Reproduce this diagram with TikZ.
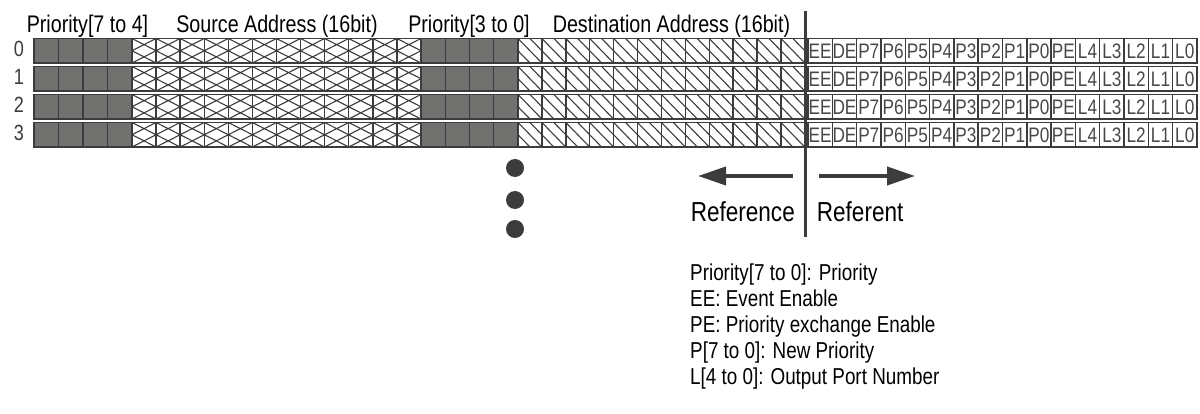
\documentclass[tikz,border=0pt]{standalone}
\usepackage{fontspec}
\setmainfont{Liberation Sans}[FakeStretch=0.82]
\usetikzlibrary{arrows.meta}
\definecolor{ink}{HTML}{3C3C3C}
\definecolor{cellgray}{HTML}{717170}
\definecolor{labelgray}{HTML}{484848}

\begin{document}
\begin{tikzpicture}[x=1pt,y=-1pt,
  cellbox/.style={draw=ink, line width=1.4pt, inner sep=0pt, outer sep=0pt,
    minimum height=24.5pt, anchor=north west},
  graycell/.style={cellbox, fill=cellgray},
  crosscell/.style={cellbox, path picture={
    \coordinate (pnw) at (path picture bounding box.north west);
    \coordinate (pne) at (path picture bounding box.north east);
    \coordinate (psw) at (path picture bounding box.south west);
    \coordinate (pse) at (path picture bounding box.south east);
    \draw[ink, line width=1.1pt]
      (pnw) -- (path picture bounding box.east) -- (psw)
      (pne) -- (path picture bounding box.west) -- (pse);}},
  diagcell/.style={cellbox, path picture={
    \draw[ink, line width=1.1pt]
      (path picture bounding box.north west) -- (path picture bounding box.south east)
      (path picture bounding box.north) -- (path picture bounding box.east)
      (path picture bounding box.west) -- (path picture bounding box.south);}},
  labcell/.style={cellbox, text=labelgray, font=\fontsize{21}{22}\selectfont,
    text height=15pt, text depth=0pt},
  header/.style={anchor=base, font=\fontsize{24}{28}\selectfont, text=black, inner sep=0pt},
  rowlabel/.style={anchor=base, font=\fontsize{22}{26}\selectfont, text=ink, inner sep=0pt},
  legend/.style={anchor=base west, font=\fontsize{23}{26}\selectfont, text=black, inner sep=0pt},
  dirlabel/.style={font=\fontsize{27.5}{30}\selectfont, text=black, inner sep=0pt},
  dot/.style={circle, fill=ink, minimum size=18pt, inner sep=0pt},
  bigarrow/.style={draw=ink, line width=4pt, -{Triangle[length=28pt, width=18pt]}},
  divider/.style={draw=ink, line width=3.2pt}
]
\useasboundingbox (0,0) rectangle (1200,414);

% field headings
\node[header] (hp1) at (87.5,33) {Priority[7 to 4]};
\node[header] (hsa) at (277,33) {Source Address (16bit)};
\node[header] (hp2) at (469,33) {Priority[3 to 0]};
\node[header] (hda) at (671.5,33) {Destination Address (16bit)};

% four table rows
\foreach \r in {0,...,3} {
  \pgfmathsetmacro\yt{38.5+28*\r}
  \pgfmathsetmacro\yb{57+28*\r}
  \node[rowlabel] (row-\r) at (19,\yb) {\r};
  % priority bits 7..4
  \foreach \i in {0,...,3}
    \node[graycell, minimum width=24.5pt] (pa-\r-\i) at ({34+24.5*\i},\yt) {};
  % source address
  \foreach \i in {0,...,11}
    \node[crosscell, minimum width=24.08pt] (sa-\r-\i) at ({132+24.08*\i},\yt) {};
  % priority bits 3..0
  \foreach \i in {0,...,3}
    \node[graycell, minimum width=24.25pt] (pb-\r-\i) at ({421+24.25*\i},\yt) {};
  % destination address
  \foreach \i in {0,...,11}
    \node[diagcell, minimum width=23.9pt] (da-\r-\i) at ({518+23.9*\i},\yt) {};
  % control and port fields
  \foreach \lab [count=\i from 0] in {EE,DE,P7,P6,P5,P4,P3,P2,P1,P0,PE,L4,L3,L2,L1,L0}
    \node[labcell, minimum width=24.31pt] (fl-\r-\i) at ({808+24.31*\i},\yt) {\lab};
}

% boundary between reference and referent
\coordinate (vtop) at (805.5,11);
\coordinate (vbot) at (805.5,237);
\draw[divider] (vtop) -- (vbot);

% more rows follow
\node[dot] (dot1) at (515,168) {};
\node[dot] (dot2) at (515,200) {};
\node[dot] (dot3) at (515,229) {};

% direction arrows
\coordinate (la-from) at (793,176);
\coordinate (la-to) at (698,176);
\coordinate (ra-from) at (819,176);
\coordinate (ra-to) at (915,176);
\draw[bigarrow] (la-from) -- (la-to);
\draw[bigarrow] (ra-from) -- (ra-to);

\node[dirlabel, anchor=base east] (refl) at (795,221.7) {Reference};
\node[dirlabel, anchor=base west] (refr) at (816.7,221.7) {Referent};

% legend
\node[legend] (lg1) at (690,280.7) {Priority[7 to 0]: Priority};
\node[legend] (lg2) at (690,306.7) {EE: Event Enable};
\node[legend] (lg3) at (690,332.7) {PE: Priority exchange Enable};
\node[legend] (lg4) at (690,358.5) {P[7 to 0]: New Priority};
\node[legend] (lg5) at (690,384.4) {L[4 to 0]: Output Port Number};
\end{tikzpicture}
\end{document}
